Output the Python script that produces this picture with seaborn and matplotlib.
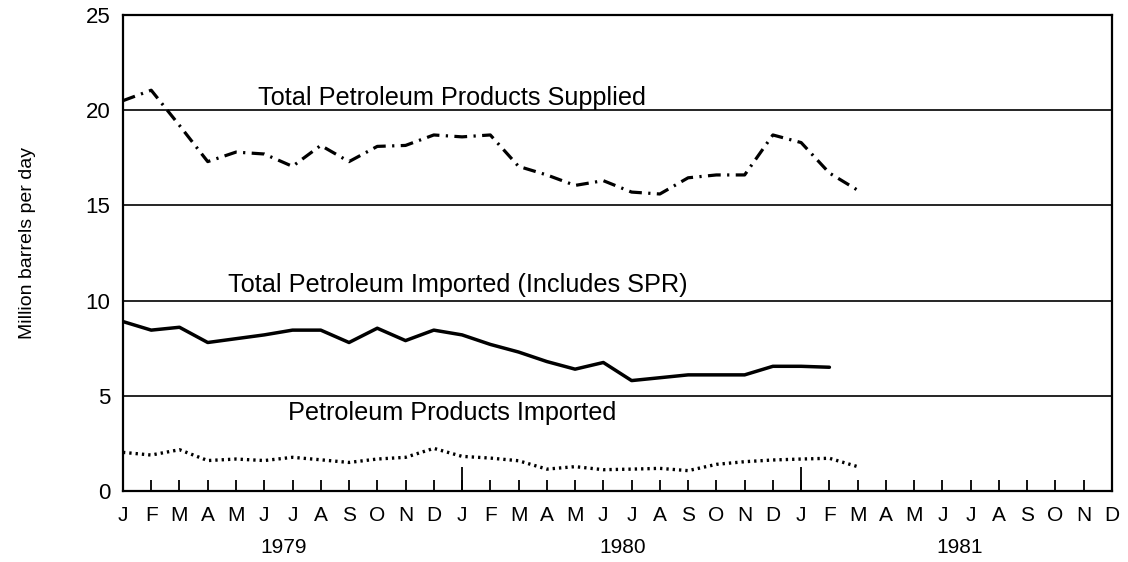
import numpy as np
import pandas as pd
import matplotlib
matplotlib.use("Agg")
import matplotlib.pyplot as plt
import seaborn as sns

sns.set_style("white")
plt.rcParams['font.family'] = ['Liberation Sans', 'DejaVu Sans']
plt.rcParams['text.color'] = 'black'
plt.rcParams['xtick.color'] = 'black'
plt.rcParams['ytick.color'] = 'black'

# monthly values, million barrels per day, starting Jan 1979
supplied = [20.5, 21.05, 19.2, 17.3, 17.8, 17.7, 17.05, 18.15, 17.3, 18.1, 18.15, 18.7,
            18.6, 18.7, 17.05, 16.6, 16.05, 16.3, 15.7, 15.6, 16.45, 16.6, 16.6, 18.7,
            18.3, 16.7, 15.8]
imported_total = [8.9, 8.45, 8.6, 7.8, 8.0, 8.2, 8.45, 8.45, 7.8, 8.55, 7.9, 8.45,
                  8.2, 7.7, 7.3, 6.8, 6.4, 6.75, 5.8, 5.95, 6.1, 6.1, 6.1, 6.55,
                  6.55, 6.5]
products_imported = [2.03, 1.89, 2.17, 1.6, 1.68, 1.6, 1.77, 1.64, 1.5, 1.68, 1.77, 2.24,
                     1.82, 1.73, 1.59, 1.15, 1.28, 1.12, 1.15, 1.19, 1.07, 1.4, 1.54, 1.63,
                     1.68, 1.72, 1.28]
month_labels = list("JFMAMJJASOND") * 3
years = ["1979", "1980", "1981"]
year_pos = [5.7, 17.7, 29.6]

fig = plt.figure(figsize=(11.28, 5.62), dpi=100)
ax = fig.add_axes([0.109, 0.1263, 0.8768, 0.847])

sns.lineplot(x=np.arange(len(supplied)), y=supplied, ax=ax, color="black",
             linewidth=2.3, linestyle=(0, (4.0, 2.0, 0.7, 2.0)))
sns.lineplot(x=np.arange(len(imported_total)), y=imported_total, ax=ax, color="black",
             linewidth=2.5, linestyle="-")
sns.lineplot(x=np.arange(len(products_imported)), y=products_imported, ax=ax, color="black",
             linewidth=2.4, linestyle=(0, (0.7, 1.2)))

ax.set_xlim(0, 35)
ax.set_ylim(0, 25)
ax.set_yticks([0, 5, 10, 15, 20, 25])
ax.yaxis.grid(True, color="black", linewidth=1.2)
ax.tick_params(axis="y", length=0, pad=9, labelsize=16)

ax.set_xticks(range(36))
ax.set_xticklabels(month_labels, fontsize=15)
ax.tick_params(axis="x", which="major", bottom=True, direction="in", length=8, width=1.3,
               color="black", pad=11)
ax.xaxis.remove_overlapping_locs = False
ax.set_xticks([12, 24], minor=True)
ax.tick_params(axis="x", which="minor", bottom=True, direction="in", length=17, width=1.3,
               color="black")

for s in ax.spines.values():
    s.set_color("black")
    s.set_linewidth(1.6)

for yr, xp in zip(years, year_pos):
    ax.text(xp, -0.118, yr, transform=ax.get_xaxis_transform(), ha="center", va="center",
            fontsize=15)

ax.text(4.78, 20.27, "Total Petroleum Products Supplied", fontsize=18.2, ha="left", va="baseline")
ax.text(3.72, 10.44, "Total Petroleum Imported (Includes SPR)", fontsize=18.2, ha="left", va="baseline")
ax.text(5.84, 3.73, "Petroleum Products Imported", fontsize=18.2, ha="left", va="baseline")

ax.set_xlabel("")
ax.set_ylabel("")
fig.text(0.0248, 0.5676, "Million barrels per day", rotation=90, ha="center", va="center",
         fontsize=14)

plt.savefig("out.png", dpi=100)
